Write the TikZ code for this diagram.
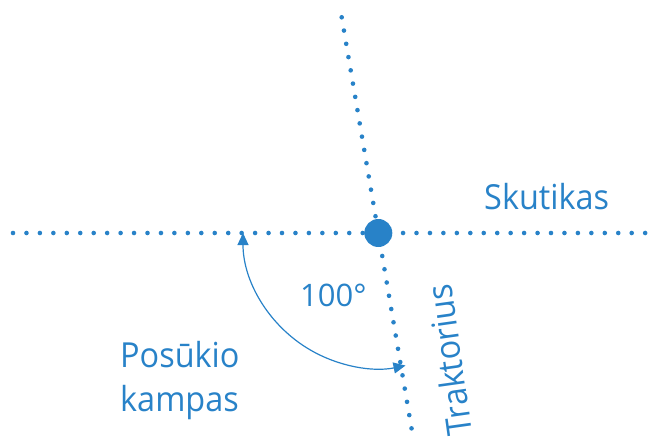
\documentclass[tikz,border=0pt]{standalone}
\usepackage{fontspec}
\setmainfont{Open Sans}
\newfontfamily\narrowfont[FakeStretch=0.94]{Open Sans}
\usetikzlibrary{arrows.meta}
\definecolor{cblue}{RGB}{40,130,200}
\begin{document}
\begin{tikzpicture}[x=1pt,y=-1pt,
  dotline/.style={cblue,line width=4.6pt,line cap=round,dash pattern=on 0pt off 13.45pt},
  lbl/.style={text=cblue,inner sep=0pt,font=\narrowfont\fontsize{34.5}{40}\selectfont},
  arcarrow/.style={cblue,line width=1.2pt,{Triangle[length=12pt,width=11pt]}-{Triangle[length=12pt,width=11pt]}}]
\useasboundingbox (0,0) rectangle (653,444);
\coordinate (hl) at (13,233);
\coordinate (hr) at (650,233);
\coordinate (tt) at (341.7,17.3);
\coordinate (tb) at (413.5,440);
\draw[dotline] (hl) -- (hr);
\draw[dotline] (tt) -- (tb);
\node[circle,fill=cblue,minimum size=28pt,inner sep=0pt] (dot) at (378.3,233) {};
\coordinate (as) at (243,233);
\draw[arcarrow] (as) arc[start angle=180,end angle=78.4,radius=135.3];
\node[lbl,anchor=base west] (sk) at (484,209) {Skutikas};
\node[lbl,anchor=base west] (po) at (120,367) {Posūkio};
\node[lbl,anchor=base west] (ka) at (120,411.5) {kampas};
\node[lbl,anchor=base west,font=\fontsize{31}{36}\selectfont] (deg) at (300,306) {100°};
\node[lbl,anchor=center,rotate=98] (tr) at (449,360) {Traktorius};
\end{tikzpicture}
\end{document}
